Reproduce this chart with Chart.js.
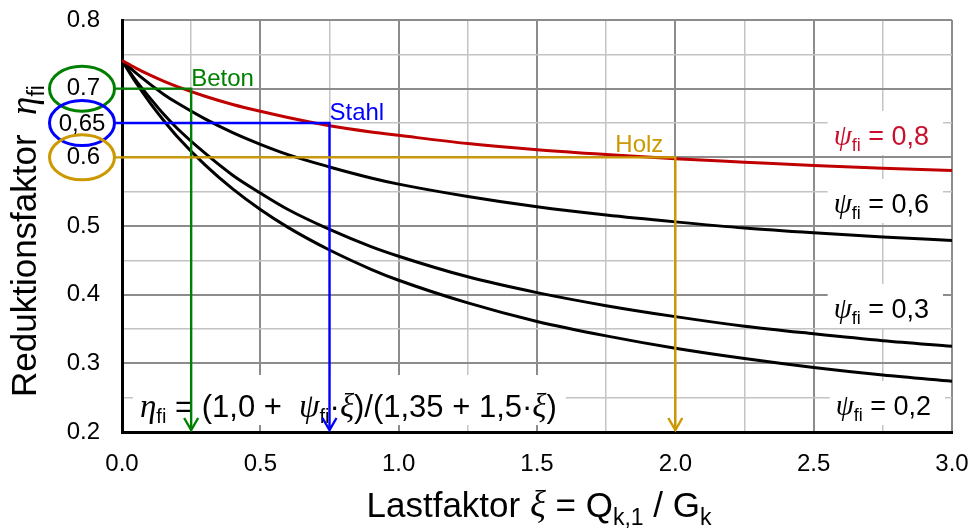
<!DOCTYPE html>
<html lang="de">
<head>
<meta charset="UTF-8">
<title>Reduktionsfaktor eta_fi</title>
<script src="https://cdn.jsdelivr.net/npm/chart.js"></script>
<style>
  html, body { margin: 0; padding: 0; background: #fff; }
  #wrap { width: 972px; height: 530px; }
</style>
</head>
<body>
<div id="wrap"><canvas id="chart" width="972" height="530"></canvas></div>
<script>
// Lastfaktor xi
const xi = [0, 0.05, 0.1, 0.15, 0.2, 0.3, 0.4, 0.5, 0.6, 0.75, 0.9, 1.0, 1.25, 1.5, 1.75, 2.0, 2.25, 2.5, 2.75, 3.0];
// Reduktionsfaktor eta_fi fuer die vier psi-Werte
const eta08 = [0.741, 0.730, 0.720, 0.711, 0.703, 0.689, 0.677, 0.667, 0.658, 0.646, 0.637, 0.632, 0.620, 0.611, 0.604, 0.598, 0.593, 0.588, 0.584, 0.581];
const eta06 = [0.741, 0.723, 0.707, 0.692, 0.679, 0.656, 0.636, 0.619, 0.604, 0.586, 0.570, 0.561, 0.543, 0.528, 0.516, 0.506, 0.497, 0.490, 0.484, 0.479];
const eta03 = [0.741, 0.712, 0.687, 0.663, 0.642, 0.606, 0.574, 0.548, 0.524, 0.495, 0.470, 0.456, 0.426, 0.403, 0.384, 0.368, 0.354, 0.343, 0.333, 0.325];
const eta02 = [0.741, 0.709, 0.680, 0.654, 0.630, 0.589, 0.554, 0.524, 0.498, 0.465, 0.437, 0.421, 0.388, 0.361, 0.340, 0.322, 0.307, 0.294, 0.283, 0.274];
const psiLabels = ['0,8', '0,6', '0,3', '0,2'];

// Ablesebeispiele Beton / Stahl / Holz
const markerNames = ['Beton', 'Stahl', 'Holz'];
const markerXi = [0.25, 0.75, 2.0];
const markerEta = [0.7, 0.65, 0.6];

const SANS = '"Liberation Sans", Arial, sans-serif';
const SERIF = '"Liberation Serif", "Times New Roman", serif';
const RED = '#c00000';
const markerColors = ['#008000', '#0000ff', '#cc9900'];

const pts = ys => xi.map((x, i) => ({ x: x, y: ys[i] }));
const isMajorX = v => Math.abs(Math.round(v * 2) - v * 2) < 1e-6;
const isMajorY = v => Math.abs(Math.round(v * 10) - v * 10) < 1e-6;

// text made of several runs (fonts, subscripts)
function measureRuns(ctx, parts) {
  let w = 0;
  parts.forEach(p => { ctx.font = p[1]; w += ctx.measureText(p[0]).width; });
  return w;
}
function drawRuns(ctx, parts, x, y, align, color) {
  const w = measureRuns(ctx, parts);
  let cx = align === 'right' ? x - w : align === 'center' ? x - w / 2 : x;
  const left = cx;
  ctx.textAlign = 'left';
  ctx.textBaseline = 'alphabetic';
  ctx.fillStyle = color || '#000';
  parts.forEach(p => {
    ctx.font = p[1];
    ctx.fillText(p[0], cx, y + (p[2] || 0));
    cx += ctx.measureText(p[0]).width;
  });
  return { left: left, width: w };
}
function psiParts(val) {
  return [['ψ', 'italic 29px ' + SERIF], ['fi', '18px ' + SANS, 6], [' = ' + val, '27px ' + SANS]];
}

const labelPlugin = {
  id: 'labels',
  beforeDatasetsDraw(chart) {
    const ctx = chart.ctx;
    ctx.save();
    // psi labels with white boxes
    const psiPos = [[929, 145, '#c8102e'], [929, 213, '#000'], [929, 318, '#000'], [931, 415, '#000']];
    psiLabels.forEach((val, i) => {
      const parts = psiParts(val);
      const w = measureRuns(ctx, parts);
      const [rx, by, col] = psiPos[i];
      ctx.fillStyle = '#fff';
      ctx.fillRect(rx - w - 6, by - 34, w + 20, 44);
      drawRuns(ctx, parts, rx, by, 'right', col);
    });
    // formula
    const f = [
      ['η', 'italic 33px ' + SERIF], ['fi', '20px ' + SANS, 6],
      [' = (1,0 +  ', '31px ' + SANS],
      ['ψ', 'italic 33px ' + SERIF], ['fi', '20px ' + SANS, 6],
      ['·', '31px ' + SANS], ['ξ', 'italic 33px ' + SERIF],
      [')/(1,35 + 1,5·', '31px ' + SANS], ['ξ', 'italic 33px ' + SERIF], [')', '31px ' + SANS]
    ];
    const fw = measureRuns(ctx, f);
    ctx.fillStyle = '#fff';
    ctx.fillRect(133, 375, fw + 16, 50);
    drawRuns(ctx, f, 140, 417, 'left');
    ctx.restore();
  },
  afterDatasetsDraw(chart) {
    const ctx = chart.ctx;
    const xs = chart.scales.x, ys = chart.scales.y;
    const area = chart.chartArea;
    ctx.save();
    markerNames.forEach((name, i) => {
      const px = xs.getPixelForValue(markerXi[i]);
      const py = ys.getPixelForValue(markerEta[i]);
      const col = markerColors[i];
      const ex = area.left - 40;
      ctx.strokeStyle = col;
      ctx.lineWidth = 2.4;
      ctx.beginPath();
      ctx.moveTo(ex + 33, py);
      ctx.lineTo(px, py);
      ctx.lineTo(px, area.bottom - 2);
      ctx.stroke();
      ctx.beginPath();
      ctx.moveTo(px - 7, area.bottom - 14);
      ctx.lineTo(px, area.bottom - 2);
      ctx.lineTo(px + 7, area.bottom - 14);
      ctx.stroke();
      // ellipse round the tick value
      ctx.lineWidth = 3;
      ctx.beginPath();
      ctx.ellipse(ex, py, 32.5, 22.5, 0, 0, Math.PI * 2);
      ctx.stroke();
      // name
      ctx.fillStyle = col;
      ctx.font = '24px ' + SANS;
      ctx.textBaseline = 'alphabetic';
      if (i < 2) {
        ctx.textAlign = 'left';
        ctx.fillText(name, px, py - 3);
      } else {
        ctx.textAlign = 'right';
        ctx.fillText(name, px - 12, py - 5);
      }
    });
    // 0,65 label inside blue ellipse
    ctx.fillStyle = '#000';
    ctx.font = '24px ' + SANS;
    ctx.textAlign = 'center';
    ctx.textBaseline = 'middle';
    ctx.fillText('0,65', area.left - 40, ys.getPixelForValue(0.65) + 1);

    // axis titles
    drawRuns(ctx, [
      ['Lastfaktor ', '35px ' + SANS], ['ξ', 'italic 37px ' + SERIF], [' = Q', '35px ' + SANS],
      ['k,1', '23px ' + SANS, 8], [' / G', '35px ' + SANS], ['k', '23px ' + SANS, 8]
    ], 539, 517, 'center');
    ctx.save();
    ctx.translate(36, 397);
    ctx.rotate(-Math.PI / 2);
    drawRuns(ctx, [
      ['Reduktionsfaktor  ', '35px ' + SANS], ['η', 'italic 37px ' + SERIF], ['fi', '23px ' + SANS, 8]
    ], 0, 0, 'left');
    ctx.restore();
    ctx.restore();
  }
};

new Chart(document.getElementById('chart'), {
  type: 'line',
  data: {
    datasets: [
      { data: pts(eta08), borderColor: RED, borderWidth: 3 },
      { data: pts(eta06), borderColor: '#000', borderWidth: 3 },
      { data: pts(eta03), borderColor: '#000', borderWidth: 3 },
      { data: pts(eta02), borderColor: '#000', borderWidth: 3 }
    ]
  },
  options: {
    responsive: false,
    animation: false,
    elements: {
      point: { radius: 0 },
      line: { cubicInterpolationMode: 'monotone', fill: false }
    },
    layout: { padding: { top: 20, right: 20, left: 0, bottom: 0 } },
    plugins: { legend: { display: false }, tooltip: { enabled: false } },
    scales: {
      x: {
        type: 'linear', min: 0, max: 3,
        ticks: {
          stepSize: 0.25, autoSkip: false, maxRotation: 0, padding: 18,
          color: '#000', font: { size: 24, family: SANS },
          callback: v => isMajorX(v) ? v.toFixed(1) : ''
        },
        grid: {
          drawTicks: false,
          color: c => isMajorX(c.tick.value) ? '#8c8c8c' : '#c4c4c4',
          lineWidth: c => isMajorX(c.tick.value) ? 2 : 1.5
        },
        border: { color: '#000', width: 3 },
        afterFit: s => { s.height = 98; s.paddingLeft = 0; s.paddingRight = 0; }
      },
      y: {
        min: 0.2, max: 0.8,
        ticks: {
          stepSize: 0.05, autoSkip: false, padding: 22,
          color: '#000', font: { size: 24, family: SANS },
          callback: v => isMajorY(v) ? v.toFixed(1) : ''
        },
        grid: {
          drawTicks: false,
          color: c => isMajorY(c.tick.value) ? '#8c8c8c' : '#c4c4c4',
          lineWidth: c => isMajorY(c.tick.value) ? 2 : 1.5
        },
        border: { color: '#000', width: 3 },
        afterFit: s => { s.width = 122; s.paddingTop = 0; s.paddingBottom = 0; }
      }
    }
  },
  plugins: [labelPlugin]
});
</script>
</body>
</html>
